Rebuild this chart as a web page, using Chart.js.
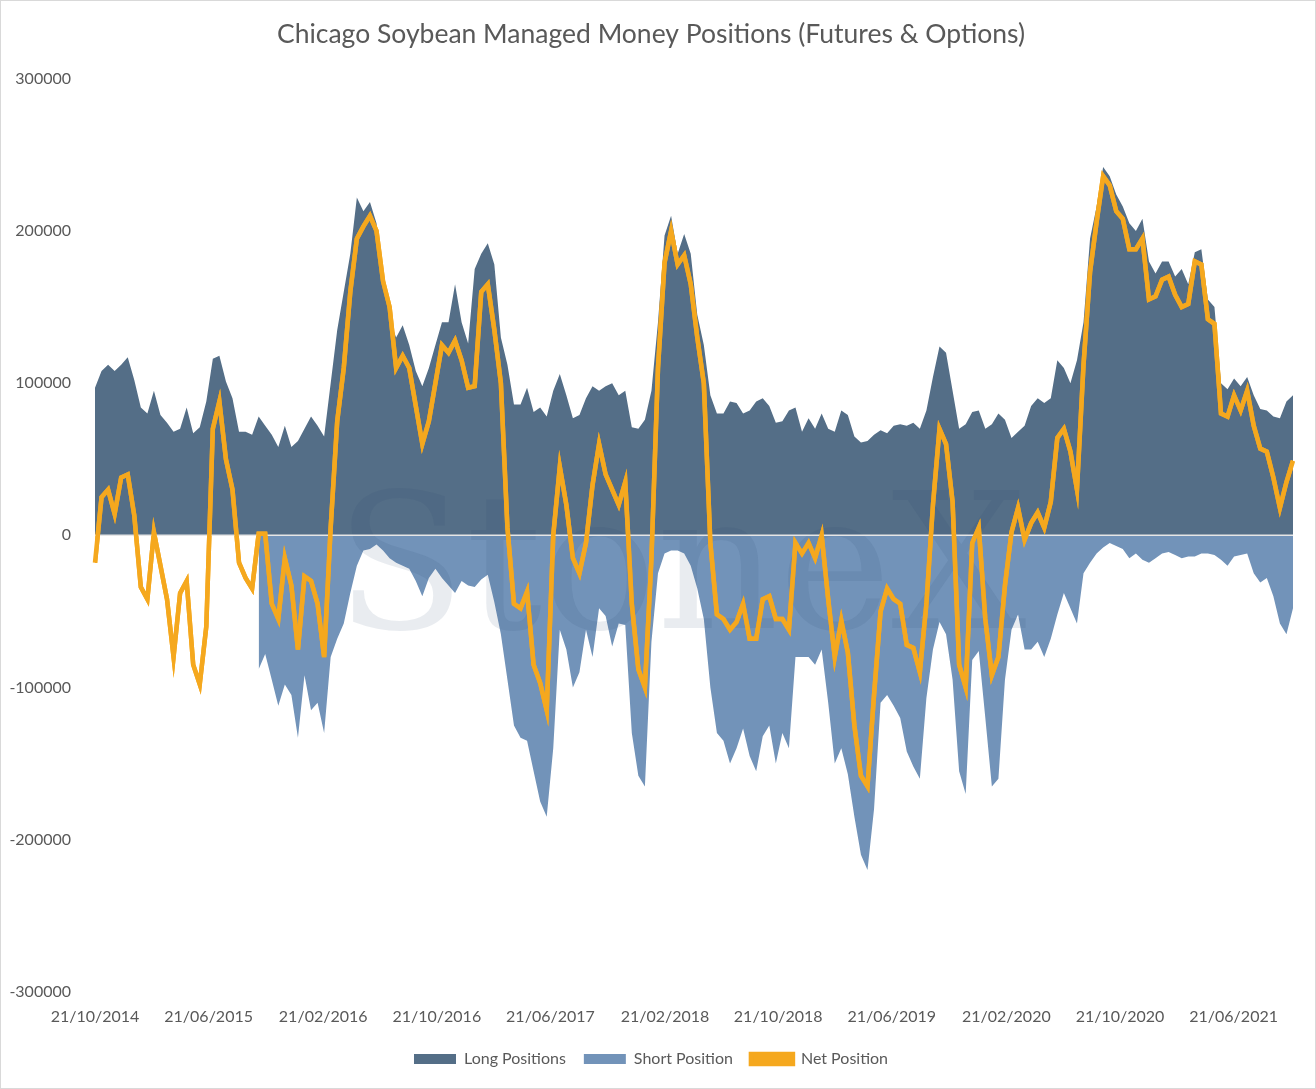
<!DOCTYPE html>
<html>
<head>
<meta charset="utf-8">
<script src="https://cdn.jsdelivr.net/npm/chart.js@4"></script>
<style>
  html, body { margin: 0; padding: 0; background: #fff; }
  #wrap { position: relative; width: 1314px; height: 1087px; border: 1px solid #d9d9d9; }
</style>
</head>
<body>
<div id="wrap"><canvas id="chart"></canvas></div>
<script>
// fortnightly samples from 21/10/2014
const START = Date.UTC(2014, 9, 21);
const STEP_DAYS = 14;

const tickLabels = ['21/10/2014', '21/06/2015', '21/02/2016', '21/10/2016', '21/06/2017',
  '21/02/2018', '21/10/2018', '21/06/2019', '21/02/2020', '21/10/2020', '21/06/2021'];

const longPositions = [
  97, 108, 112, 108, 112, 117, 102, 84, 80, 95, 79, 74, 68, 70, 84, 67, 71, 88, 116, 118,
  101, 90, 68, 68, 66, 78, 72, 66, 58, 72, 58, 62, 70, 78, 72, 65, 100, 135, 160, 185,
  222, 213, 219, 205, 170, 142, 130, 138, 125, 108, 98, 110, 125, 140, 140, 165, 140, 126, 175, 185,
  192, 178, 130, 112, 86, 86, 97, 81, 84, 78, 95, 106, 92, 77, 79, 90, 98, 95, 98, 100,
  92, 95, 71, 70, 76, 95, 140, 197, 210, 185, 198, 185, 145, 125, 92, 80, 80, 88, 87, 80,
  82, 88, 90, 85, 74, 75, 82, 84, 68, 77, 70, 80, 70, 68, 82, 79, 65, 61, 62, 66,
  69, 67, 72, 73, 72, 74, 70, 82, 104, 124, 120, 95, 70, 73, 81, 82, 70, 73, 80, 76,
  64, 68, 72, 85, 90, 87, 90, 115, 110, 100, 115, 140, 195, 216, 242, 236, 224, 216, 205, 200,
  208, 180, 172, 180, 180, 170, 175, 165, 186, 188, 155, 150, 100, 96, 103, 98, 104, 92, 83, 82,
  78, 77, 88, 92
].map(v => v * 1000);

const shortPositions = [
  null, null, null, null, null, null, null, null, null, null, null, null, null, null, null, null, null, null, null, null,
  null, null, null, null, null, -88, -78, -95, -112, -98, -105, -133, -92, -115, -110, -130, -80, -68, -58, -38,
  -20, -10, -9, -6, -10, -15, -18, -20, -22, -30, -40, -28, -22, -28, -33, -38, -30, -33, -34, -29,
  -26, -44, -65, -95, -125, -133, -135, -155, -175, -185, -140, -62, -75, -100, -90, -62, -80, -48, -53, -73,
  -58, -59, -130, -158, -165, -70, -25, -12, -10, -10, -12, -20, -35, -55, -100, -130, -135, -150, -140, -127,
  -145, -155, -132, -125, -150, -130, -140, -80, -80, -80, -85, -75, -110, -150, -140, -157, -185, -210, -220, -180,
  -110, -105, -112, -120, -142, -152, -160, -107, -75, -57, -65, -95, -155, -170, -82, -76, -120, -165, -160, -95,
  -62, -52, -75, -75, -70, -80, -68, -52, -38, -48, -58, -25, -18, -12, -8, -5, -7, -9, -15, -12,
  -16, -18, -15, -12, -11, -13, -15, -14, -14, -12, -12, -13, -16, -20, -14, -13, -12, -25, -31, -28,
  -40, -58, -65, -48
].map(v => v === null ? null : v * 1000);

const netPositions = [
  -18, 25, 30, 14, 38, 40, 13, -34, -42, 2, -20, -42, -80, -38, -30, -85, -98, -60, 70, 88,
  50, 30, -18, -28, -35, 1, 1, -45, -55, -15, -33, -75, -27, -30, -45, -80, 5, 75, 110, 160,
  195, 203, 210, 200, 167, 150, 110, 118, 110, 85, 60, 75, 100, 125, 120, 128, 115, 97, 98, 160,
  165, 135, 100, 5, -45, -48, -37, -85, -97, -115, 0, 45, 20, -15, -25, -5, 33, 60, 40, 30,
  20, 35, -45, -88, -100, -15, 110, 179, 200, 178, 184, 165, 130, 100, -5, -52, -55, -62, -57, -45,
  -68, -68, -42, -40, -55, -55, -62, -5, -12, -5, -15, 0, -42, -80, -56, -77, -125, -158, -165, -105,
  -50, -35, -42, -45, -72, -74, -90, -45, 20, 70, 60, 22, -85, -100, -5, 5, -55, -92, -80, -33,
  2, 18, -3, 8, 15, 5, 22, 64, 70, 55, 30, 112, 173, 206, 236, 230, 213, 208, 188, 188,
  195, 155, 157, 168, 170, 158, 150, 152, 180, 178, 142, 139, 80, 78, 92, 82, 95, 72, 57, 55,
  38, 18, 35, 49
].map(v => v * 1000);

const DAY = 86400000;
const days = longPositions.map((_, i) => i * STEP_DAYS);
const tickDays = tickLabels.map(s => {
  const [d, m, y] = s.split('/').map(Number);
  return Math.round((Date.UTC(y, m - 1, d) - START) / DAY);
});
const pts = arr => arr.map((v, i) => ({ x: days[i], y: v }));

const overlay = {
  id: 'overlay',
  afterDatasetsDraw(chart) {
    const { ctx, chartArea, scales } = chart;
    ctx.save();
    // faint watermark
    ctx.font = '190px "DejaVu Serif", serif';
    ctx.fillStyle = 'rgba(40, 70, 110, 0.10)';
    ctx.textAlign = 'center';
    ctx.fillText('StoneX', 680, 578);
    // zero line
    const y = scales.y.getPixelForValue(0);
    ctx.strokeStyle = '#e6e6e6';
    ctx.lineWidth = 1.5;
    ctx.beginPath();
    ctx.moveTo(chartArea.left, y);
    ctx.lineTo(chartArea.right, y);
    ctx.stroke();
    // net line back on top
    chart.getDatasetMeta(2).dataset.draw(ctx, chartArea);
    ctx.restore();
  }
};

new Chart(document.getElementById('chart'), {
  type: 'line',
  data: {
    datasets: [
      { label: 'Long Positions', data: pts(longPositions), backgroundColor: '#546e87', borderWidth: 0,
        fill: 'origin', pointRadius: 0, order: 3 },
      { label: 'Short Position', data: pts(shortPositions), backgroundColor: '#7293b9', borderWidth: 0,
        fill: 'origin', pointRadius: 0, spanGaps: false, order: 2 },
      { label: 'Net Position', data: pts(netPositions), borderColor: '#f5a81e', backgroundColor: '#f5a81e',
        borderWidth: 4.5, fill: false, pointRadius: 0, order: 1 }
    ]
  },
  options: {
    responsive: true,
    maintainAspectRatio: false,
    animation: false,
    layout: { padding: { left: 8, right: 22, top: 10, bottom: 11 } },
    plugins: {
      title: {
        display: true,
        text: 'Chicago Soybean Managed Money Positions (Futures & Options)',
        color: '#595959',
        font: { family: 'Lato', size: 26.5, weight: 'normal' },
        padding: { top: 8, bottom: 28 }
      },
      legend: {
        position: 'bottom',
        labels: {
          color: '#595959',
          font: { family: 'Lato', size: 16 },
          boxWidth: 42, boxHeight: 10, padding: 18,
          sort: (a, b) => a.datasetIndex - b.datasetIndex
        }
      },
      tooltip: { enabled: false }
    },
    scales: {
      x: {
        type: 'linear',
        min: 0,
        max: days[days.length - 1],
        grid: { display: false },
        border: { display: false },
        afterBuildTicks: axis => { axis.ticks = tickDays.map(v => ({ value: v })); },
        ticks: {
          color: '#595959',
          font: { family: 'Lato', size: 16 },
          maxRotation: 0, autoSkip: false, padding: 7,
          callback: (v) => tickLabels[tickDays.indexOf(v)] || ''
        }
      },
      y: {
        min: -300000, max: 300000,
        grid: { display: false },
        border: { display: false },
        afterFit: axis => { axis.width = 86; },
        ticks: {
          stepSize: 100000,
          color: '#595959',
          font: { family: 'Lato', size: 16 },
          padding: 16,
          callback: v => String(v)
        }
      }
    }
  },
  plugins: [overlay]
});
</script>
</body>
</html>
